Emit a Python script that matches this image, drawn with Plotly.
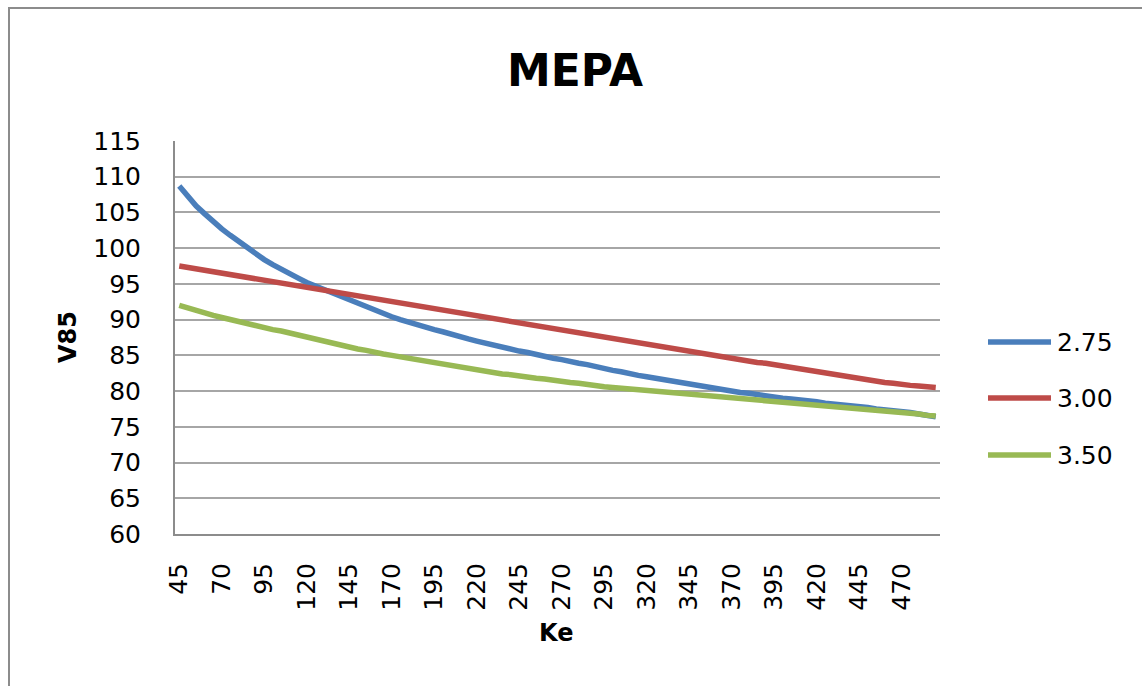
import plotly.graph_objects as go

# Ke categories (45 .. 490, step 5)
ke = list(range(45, 495, 5))

v85_275 = [
    108.7, 107.2, 105.9, 104.8, 103.7, 102.7, 101.8, 100.9, 100.0, 99.2,
    98.4, 97.7, 97.0, 96.4, 95.8, 95.2, 94.7, 94.2, 93.7, 93.2,
    92.7, 92.2, 91.7, 91.3, 90.8, 90.4, 90.0, 89.6, 89.3, 88.9,
    88.6, 88.3, 87.9, 87.6, 87.3, 87.0, 86.7, 86.4, 86.2, 85.9,
    85.6, 85.4, 85.1, 84.9, 84.6, 84.4, 84.1, 83.9, 83.7, 83.4,
    83.1, 82.9, 82.7, 82.4, 82.2, 82.0, 81.8, 81.6, 81.3, 81.1,
    80.9, 80.7, 80.6, 80.4, 80.2, 80.0, 79.8, 79.7, 79.5, 79.3,
    79.2, 79.0, 78.9, 78.8, 78.6, 78.5, 78.3, 78.2, 78.1, 77.9,
    77.8, 77.7, 77.5, 77.4, 77.2, 77.1, 77.0, 76.8, 76.6, 76.4,
]

v85_300 = [
    97.5, 97.3, 97.1, 96.9, 96.7, 96.5, 96.3, 96.1, 95.9, 95.7,
    95.5, 95.3, 95.1, 94.9, 94.7, 94.5, 94.3, 94.1, 93.8, 93.6,
    93.4, 93.2, 93.0, 92.8, 92.6, 92.4, 92.2, 92.0, 91.8, 91.6,
    91.4, 91.2, 91.0, 90.8, 90.6, 90.4, 90.2, 90.0, 89.8, 89.6,
    89.4, 89.2, 89.0, 88.8, 88.6, 88.5, 88.3, 88.1, 87.9, 87.7,
    87.5, 87.3, 87.1, 87.0, 86.8, 86.6, 86.4, 86.2, 86.0, 85.8,
    85.6, 85.4, 85.2, 85.0, 84.8, 84.6, 84.4, 84.2, 84.0, 83.9,
    83.7, 83.5, 83.3, 83.1, 82.9, 82.8, 82.6, 82.4, 82.2, 82.0,
    81.8, 81.6, 81.4, 81.2, 81.1, 80.9, 80.8, 80.7, 80.6, 80.5,
]

v85_350 = [
    92.0, 91.6, 91.2, 90.9, 90.6, 90.3, 90.0, 89.7, 89.5, 89.2,
    88.9, 88.6, 88.4, 88.1, 87.8, 87.5, 87.2, 87.0, 86.7, 86.4,
    86.2, 85.9, 85.7, 85.4, 85.2, 85.0, 84.8, 84.6, 84.3, 84.1,
    83.9, 83.7, 83.5, 83.3, 83.1, 82.9, 82.8, 82.6, 82.4, 82.3,
    82.1, 82.0, 81.8, 81.7, 81.5, 81.4, 81.2, 81.1, 80.9, 80.8,
    80.6, 80.5, 80.4, 80.2, 80.1, 80.0, 79.9, 79.8, 79.7, 79.6,
    79.5, 79.4, 79.3, 79.2, 79.1, 79.0, 78.9, 78.8, 78.7, 78.6,
    78.5, 78.4, 78.3, 78.2, 78.1, 78.0, 77.9, 77.8, 77.7, 77.6,
    77.5, 77.4, 77.3, 77.2, 77.1, 77.0, 76.9, 76.8, 76.6, 76.5,
]

series_names = ["2.75", "3.00", "3.50"]
series_values = [v85_275, v85_300, v85_350]
series_colors = ["#4A7EBB", "#BE4B48", "#98B954"]

x_tick_labels = [str(k) for k in ke[::5]]

W, H = 1142, 686
ML, MR, MT, MB = 175, 202, 141, 152
PW, PH = W - ML - MR, H - MT - MB


def px_x(px):
    return (px - ML) / PW


def px_y(py):
    return (H - MB - py) / PH


FONT = "DejaVu Sans"
GRAY = "#8c8c8c"

fig = go.Figure()
cats = [str(k) for k in ke]
for name, vals, col in zip(series_names, series_values, series_colors):
    fig.add_trace(go.Scatter(
        x=cats, y=vals, mode="lines", name=name,
        line=dict(color=col, width=5.5, shape="linear"),
        showlegend=False,
    ))

shapes = [
    # chart-area frame
    dict(type="rect", xref="paper", yref="paper",
         x0=px_x(9), x1=px_x(1144), y0=px_y(690), y1=px_y(8),
         line=dict(color=GRAY, width=2), layer="below"),
]
annotations = [
    dict(text="<b>MEPA</b>", xref="paper", yref="paper",
         x=px_x(575), y=px_y(70), showarrow=False,
         font=dict(family=FONT, size=44, color="#000000"),
         xanchor="center", yanchor="middle"),
    dict(text="<b>V85</b>", xref="paper", yref="paper",
         x=px_x(68), y=px_y(337), showarrow=False, textangle=-90,
         font=dict(family=FONT, size=24, color="#000000"),
         xanchor="center", yanchor="middle"),
    dict(text="<b>Ke</b>", xref="paper", yref="paper",
         x=px_x(556), y=px_y(633), showarrow=False,
         font=dict(family=FONT, size=24, color="#000000"),
         xanchor="center", yanchor="middle"),
]

# legend: sample line + label per series
legend_rows = [342, 398, 455]
for name, col, ry in zip(series_names, series_colors, legend_rows):
    shapes.append(dict(type="line", xref="paper", yref="paper",
                       x0=px_x(988), x1=px_x(1051), y0=px_y(ry), y1=px_y(ry),
                       line=dict(color=col, width=5.5)))
    annotations.append(dict(text=name, xref="paper", yref="paper",
                            x=px_x(1055), y=px_y(ry), showarrow=False,
                            font=dict(family=FONT, size=25, color="#000000"),
                            xanchor="left", yanchor="middle"))

fig.update_layout(
    width=W, height=H,
    margin=dict(l=ML, r=MR, t=MT, b=MB, pad=0),
    paper_bgcolor="#ffffff", plot_bgcolor="#ffffff",
    showlegend=False,
    shapes=shapes, annotations=annotations,
    font=dict(family=FONT, color="#000000"),
)
fig.update_xaxes(
    type="category", range=[-0.5, len(ke) - 0.5],
    tickmode="array", tickvals=x_tick_labels, ticktext=x_tick_labels,
    tickangle=-90, tickfont=dict(family=FONT, size=25, color="#000000"),
    showgrid=False, showline=True, linecolor=GRAY, linewidth=2,
    ticks="", ticklabelstandoff=17, zeroline=False,
)
fig.update_yaxes(
    range=[60, 115], tickmode="linear", tick0=60, dtick=5,
    tickfont=dict(family=FONT, size=25, color="#000000"),
    showgrid=True, gridcolor="#a6a6a6", gridwidth=1.5,
    showline=True, linecolor=GRAY, linewidth=2,
    ticks="", ticklabelstandoff=27, zeroline=False,
)

fig.write_html("out.html")
